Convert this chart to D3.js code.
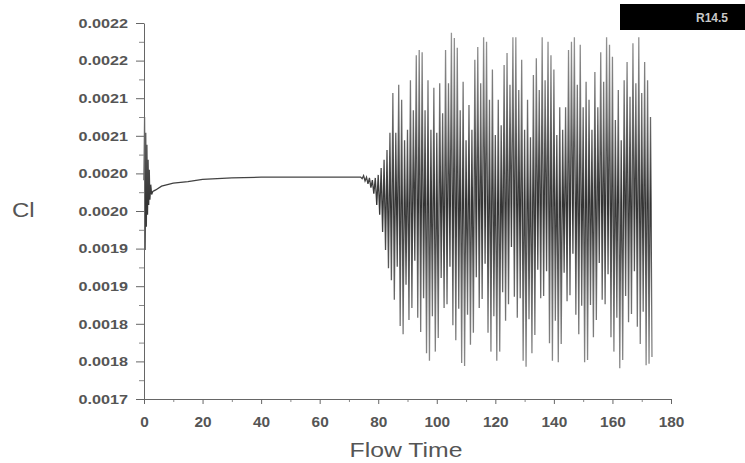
<!DOCTYPE html>
<html>
<head>
<meta charset="utf-8">
<script src="https://cdn.jsdelivr.net/npm/d3@7"></script>
<style>
  body { margin: 0; background: #fff; }
  text { font-family: "Liberation Sans", Arial, sans-serif; }
</style>
</head>
<body>
<div id="chart"></div>
<script>
// axis ticks
var xTicks = [0, 20, 40, 60, 80, 100, 120, 140, 160, 180];
var yTicks = [0.0017, 0.00175, 0.0018, 0.00185, 0.0019, 0.00195, 0.002, 0.00205, 0.0021, 0.00215, 0.0022];
var yTickLabels = ["0.0017", "0.0018", "0.0018", "0.0019", "0.0019", "0.0020", "0.0020", "0.0021", "0.0021", "0.0022", "0.0022"];

// start-up transient and steady part
var steadyTime = [0, 0.2, 0.4, 0.6, 0.8, 1.0, 1.2, 1.4, 1.6, 1.8, 2.0, 2.3, 2.6, 3, 4, 6, 10, 15, 20, 30, 40, 50, 60, 70, 73];
var steadyCl = [0.001991, 0.002075, 0.001898, 0.002054, 0.001929, 0.002038, 0.001945, 0.002018, 0.001958, 0.002005,
                0.001965, 0.001985, 0.001972, 0.001976, 0.001978, 0.001983, 0.001987, 0.001989, 0.001992, 0.001994,
                0.001995, 0.001995, 0.001995, 0.001995, 0.001995];

// oscillation peaks
var peakTime = [74, 75, 76, 77, 78, 79, 80, 81, 82, 83, 84, 85, 86, 87, 88, 89, 90, 91, 92, 93,
                94, 95, 96, 97, 98, 99, 100, 101, 102, 103, 104, 105, 106, 107, 108, 109, 110, 111, 112, 113,
                114, 115, 116, 117, 118, 119, 120, 121, 122, 123, 124, 125, 126, 127, 128, 129, 130, 131, 132, 133,
                134, 135, 136, 137, 138, 139, 140, 141, 142, 143, 144, 145, 146, 147, 148, 149, 150, 151, 152, 153,
                154, 155, 156, 157, 158, 159, 160, 161, 162, 163, 164, 165, 166, 167, 168, 169, 170, 171, 172, 173];
var peakCl = [0.001995, 0.001997, 0.001995, 0.001994, 0.001991, 0.001994, 0.001998, 0.002007, 0.002018, 0.002031,
              0.002054, 0.002107, 0.002054, 0.002118, 0.002098, 0.002044, 0.002058, 0.002124, 0.002084, 0.002157,
              0.002164, 0.002161, 0.002084, 0.002124, 0.002058, 0.002114, 0.002054, 0.002120, 0.002080, 0.002164,
              0.002120, 0.002187, 0.002180, 0.002167, 0.002084, 0.002122, 0.002044, 0.002091, 0.002058, 0.002151,
              0.002168, 0.002120, 0.002181, 0.002175, 0.002098, 0.002138, 0.002051, 0.002098, 0.002064, 0.002144,
              0.002160, 0.002118, 0.002181, 0.002181, 0.002111, 0.002151, 0.002058, 0.002098, 0.002048, 0.002131,
              0.002153, 0.002111, 0.002181, 0.002124, 0.002175, 0.002157, 0.002138, 0.002051, 0.002088, 0.002058,
              0.002088, 0.002164, 0.002175, 0.002181, 0.002118, 0.002171, 0.002088, 0.002122, 0.002098, 0.002058,
              0.002135, 0.002088, 0.002161, 0.002122, 0.002181, 0.002171, 0.002155, 0.002071, 0.002111, 0.002044,
              0.002124, 0.002148, 0.002102, 0.002173, 0.002120, 0.002181, 0.002107, 0.002148, 0.002124, 0.002075];

// oscillation troughs
var troughTime = [74.5, 75.5, 76.5, 77.5, 78.5, 79.5, 80.5, 81.5, 82.5, 83.5, 84.5, 85.5, 86.5, 87.5, 88.5, 89.5, 90.5, 91.5, 92.5, 93.5,
                  94.5, 95.5, 96.5, 97.5, 98.5, 99.5, 100.5, 101.5, 102.5, 103.5, 104.5, 105.5, 106.5, 107.5, 108.5, 109.5, 110.5, 111.5, 112.5, 113.5,
                  114.5, 115.5, 116.5, 117.5, 118.5, 119.5, 120.5, 121.5, 122.5, 123.5, 124.5, 125.5, 126.5, 127.5, 128.5, 129.5, 130.5, 131.5, 132.5, 133.5,
                  134.5, 135.5, 136.5, 137.5, 138.5, 139.5, 140.5, 141.5, 142.5, 143.5, 144.5, 145.5, 146.5, 147.5, 148.5, 149.5, 150.5, 151.5, 152.5, 153.5,
                  154.5, 155.5, 156.5, 157.5, 158.5, 159.5, 160.5, 161.5, 162.5, 163.5, 164.5, 165.5, 166.5, 167.5, 168.5, 169.5, 170.5, 171.5, 172.5, 173.5];
var troughCl = [0.001993, 0.001990, 0.001986, 0.001981, 0.001973, 0.001958, 0.001945, 0.001922, 0.001898, 0.001874,
                0.001858, 0.001832, 0.001876, 0.001797, 0.001786, 0.001852, 0.001805, 0.001821, 0.001884, 0.001808,
                0.001789, 0.001834, 0.001761, 0.001751, 0.001810, 0.001763, 0.001781, 0.001861, 0.001821, 0.001826,
                0.001876, 0.001798, 0.001778, 0.001820, 0.001748, 0.001744, 0.001812, 0.001772, 0.001788, 0.001862,
                0.001821, 0.001833, 0.001880, 0.001788, 0.001763, 0.001810, 0.001751, 0.001763, 0.001842, 0.001804,
                0.001826, 0.001902, 0.001836, 0.001808, 0.001834, 0.001751, 0.001743, 0.001806, 0.001761, 0.001785,
                0.001872, 0.001834, 0.001837, 0.001870, 0.001774, 0.001751, 0.001804, 0.001749, 0.001773, 0.001868,
                0.001830, 0.001838, 0.001893, 0.001812, 0.001786, 0.001824, 0.001749, 0.001752, 0.001825, 0.001782,
                0.001805, 0.001881, 0.001832, 0.001826, 0.001866, 0.001782, 0.001763, 0.001808, 0.001741, 0.001752,
                0.001837, 0.001802, 0.001813, 0.001870, 0.001796, 0.001773, 0.001816, 0.001745, 0.001747, 0.001756];

var width = 745, height = 463;

var svg = d3.select("#chart")
    .append("svg")
    .attr("width", width)
    .attr("height", height);

//scales
var xScale = d3.scaleLinear().domain([0, 180]).range([144, 671]);
var yScale = d3.scaleLinear().domain([0.0017, 0.0022]).range([399, 23]);

//gradient so the tips of the strokes look lighter, like in the picture
var grad = svg.append("defs").append("linearGradient")
    .attr("id", "strokeGrad")
    .attr("gradientUnits", "userSpaceOnUse")
    .attr("x1", 0).attr("x2", 0)
    .attr("y1", yScale(0.0022)).attr("y2", yScale(0.0017));
grad.append("stop").attr("offset", "0%").attr("stop-color", "#9a9a9a");
grad.append("stop").attr("offset", "25%").attr("stop-color", "#6a6a6a");
grad.append("stop").attr("offset", "48%").attr("stop-color", "#333");
grad.append("stop").attr("offset", "72%").attr("stop-color", "#6a6a6a");
grad.append("stop").attr("offset", "100%").attr("stop-color", "#9a9a9a");

//join all the samples in time order
var points = d3.zip(steadyTime, steadyCl)
    .concat(d3.zip(peakTime, peakCl))
    .concat(d3.zip(troughTime, troughCl))
    .sort(function(a, b) { return a[0] - b[0]; });

var line = d3.line()
    .x(function(d) { return xScale(d[0]); })
    .y(function(d) { return yScale(d[1]); });

svg.append("path")
    .datum(points)
    .attr("d", line)
    .attr("fill", "none")
    .attr("stroke", "url(#strokeGrad)")
    .attr("stroke-width", 1.3);

//minor ticks
var yMinor = d3.range(yTicks.length - 1).map(function(i) { return (yTicks[i] + yTicks[i + 1]) / 2; });
svg.append("g")
    .attr("transform", "translate(144,0)")
    .call(d3.axisLeft(yScale).tickValues(yMinor).tickSize(5).tickFormat(""))
    .call(function(g) { g.select(".domain").remove(); })
    .selectAll("line").attr("stroke", "#888");

var xMinor = d3.range(xTicks.length - 1).map(function(i) { return (xTicks[i] + xTicks[i + 1]) / 2; });
svg.append("g")
    .attr("transform", "translate(0,399)")
    .call(d3.axisBottom(xScale).tickValues(xMinor).tickSize(3).tickFormat(""))
    .call(function(g) { g.select(".domain").remove(); })
    .selectAll("line").attr("stroke", "#888");

//y axis
var yAxis = svg.append("g")
    .attr("transform", "translate(144,0)")
    .call(d3.axisLeft(yScale).tickValues(yTicks).tickSize(8).tickSizeOuter(0)
        .tickFormat(function(d, i) { return yTickLabels[i]; }));
yAxis.select(".domain").attr("stroke", "#666");
yAxis.selectAll(".tick line").attr("stroke", "#666");
yAxis.selectAll("text")
    .attr("x", -13.3)
    .attr("transform", "scale(1.2,1)")
    .attr("font-family", "Liberation Sans, Arial, sans-serif")
    .attr("font-size", 13.5)
    .attr("font-weight", "bold")
    .attr("fill", "#555");

//x axis
var xAxis = svg.append("g")
    .attr("transform", "translate(0,399)")
    .call(d3.axisBottom(xScale).tickValues(xTicks).tickSize(5).tickSizeOuter(0));
xAxis.select(".domain").attr("stroke", "#666");
xAxis.selectAll(".tick line").attr("stroke", "#666");
xAxis.selectAll("text")
    .attr("y", 28)
    .attr("dy", 0)
    .attr("transform", "scale(1.1,1)")
    .attr("font-family", "Liberation Sans, Arial, sans-serif")
    .attr("font-size", 14)
    .attr("font-weight", "bold")
    .attr("fill", "#555");

//axis titles
svg.append("text")
    .attr("transform", "translate(406,457) scale(1.24,1)")
    .attr("text-anchor", "middle")
    .attr("font-size", 20)
    .attr("fill", "#555")
    .text("Flow Time");

svg.append("text")
    .attr("transform", "translate(12,217) scale(1.2,1)")
    .attr("font-size", 20)
    .attr("fill", "#555")
    .text("Cl");

//label box
svg.append("rect")
    .attr("x", 620)
    .attr("y", 4)
    .attr("width", 125)
    .attr("height", 26)
    .attr("fill", "#000");

svg.append("text")
    .attr("transform", "translate(728,22)")
    .attr("text-anchor", "end")
    .attr("font-size", 12)
    .attr("font-weight", "bold")
    .attr("fill", "#c8c8c8")
    .text("R14.5");
</script>
</body>
</html>
